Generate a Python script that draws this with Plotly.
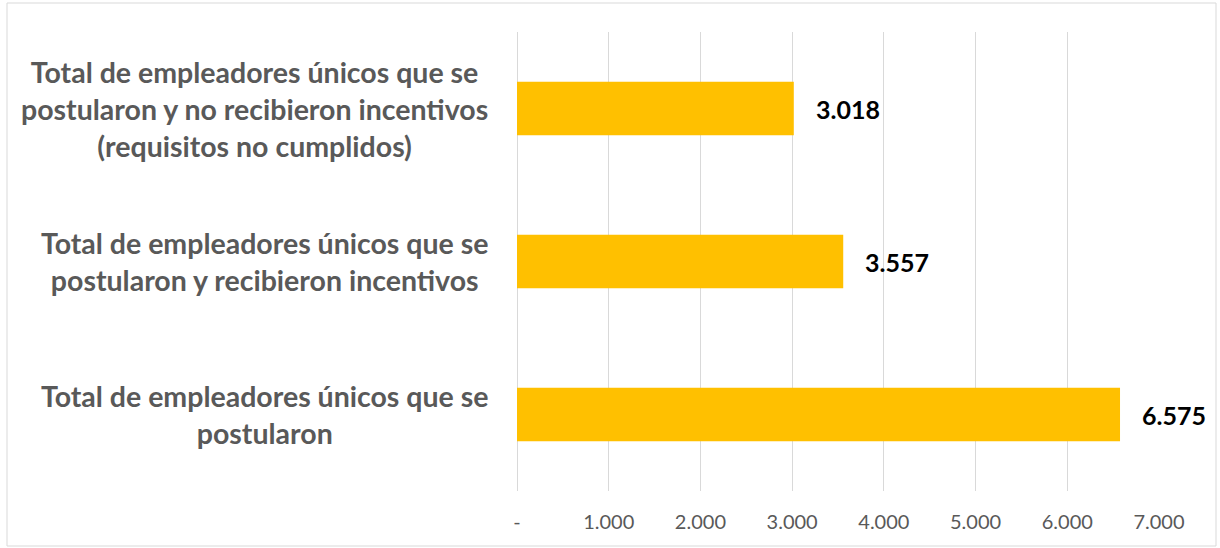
import plotly.graph_objects as go

categories = [
    "Total de empleadores únicos que se<br>postularon y no recibieron incentivos<br>(requisitos no cumplidos)",
    "Total de empleadores únicos que se<br>postularon y recibieron incentivos",
    "Total de empleadores únicos que se<br>postularon",
]
values = [3018, 3557, 6575]
value_labels = ["3.018", "3.557", "6.575"]
tick_vals = [0, 1000, 2000, 3000, 4000, 5000, 6000, 7000]
tick_text = ["-", "1.000", "2.000", "3.000", "4.000", "5.000", "6.000", "7.000"]

W, H = 1220, 548
ML, MR, MT, MB = 517, 61, 32, 57
PW, PH = W - ML - MR, H - MT - MB

FONT = "Lato"

fig = go.Figure(
    go.Bar(
        y=categories,
        x=values,
        orientation="h",
        marker=dict(color="#FFC000", line=dict(width=0)),
        width=0.35,
        hoverinfo="skip",
    )
)

annotations = []
for c, v, lab in zip(categories, values, value_labels):
    annotations.append(dict(
        x=v, y=c, xref="x", yref="y", text="<b>" + lab + "</b>",
        showarrow=False, xanchor="left", yanchor="middle", xshift=20,
        font=dict(family=FONT, size=25, color="#000000"),
    ))
    annotations.append(dict(
        x=0, y=c, xref="x", yref="y", text="<b>" + c + "</b>",
        showarrow=False, xanchor="right", yanchor="middle", xshift=-27,
        align="center",
        font=dict(family=FONT, size=28.5, color="#595959"),
    ))

fig.update_layout(
    width=W, height=H,
    margin=dict(l=ML, r=MR, t=MT, b=MB),
    paper_bgcolor="white", plot_bgcolor="white",
    showlegend=False,
    xaxis=dict(
        range=[0, 7000], tickvals=tick_vals, ticktext=tick_text,
        showgrid=True, gridcolor="#D9D9D9", gridwidth=1,
        zeroline=True, zerolinecolor="#D9D9D9", zerolinewidth=1,
        showline=False, ticks="",
        tickfont=dict(family=FONT, size=20, color="#595959"),
        ticklabelstandoff=17,
    ),
    yaxis=dict(
        autorange="reversed", showticklabels=False, showgrid=False,
        zeroline=False, showline=False, ticks="",
    ),
    annotations=annotations,
    shapes=[dict(
        type="rect", xref="paper", yref="paper",
        x0=(7 - ML) / PW, x1=(1216 - ML) / PW,
        y0=-(546 - (H - MB)) / PH, y1=1 + (MT - 3) / PH,
        line=dict(color="#D9D9D9", width=1), fillcolor="rgba(0,0,0,0)",
        layer="below",
    )],
)

fig.write_html(
    "out.html",
    config={"displayModeBar": False, "staticPlot": True},
    post_script="document.body.style.margin='0';document.body.style.overflow='hidden';",
)
